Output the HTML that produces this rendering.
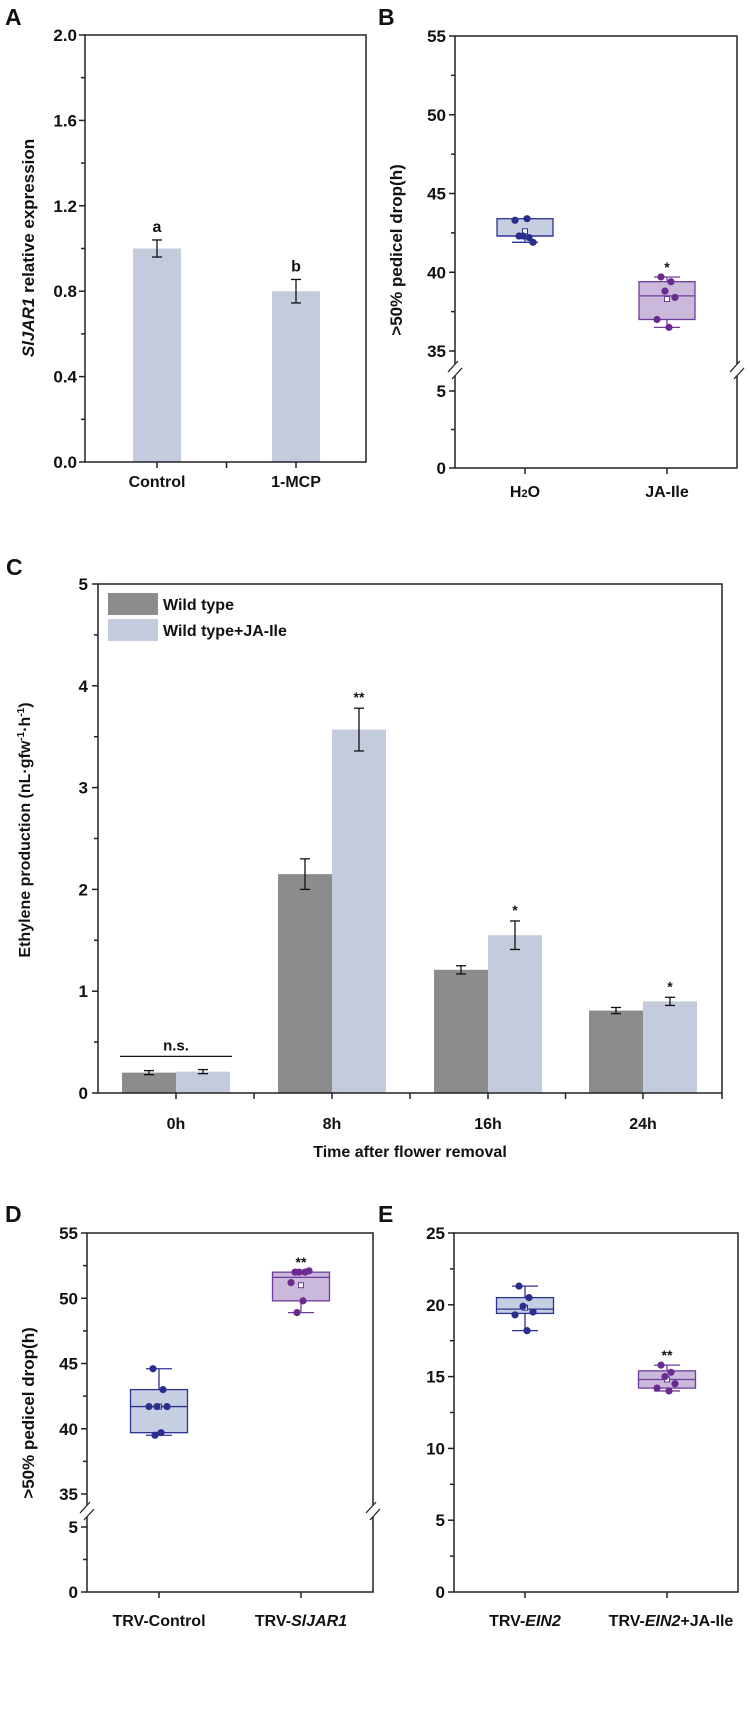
<!DOCTYPE html>
<html><head><meta charset="utf-8">
<style>
html,body{margin:0;padding:0;background:#fff;}
svg{display:block;font-family:"Liberation Sans",Arial,sans-serif;font-weight:bold;}
</style></head>
<body>
<svg id="fig" width="750" height="1734" viewBox="0 0 750 1734" xmlns="http://www.w3.org/2000/svg"></svg>
<script>
// ---- Panel A data ----
const aCats = ["Control", "1-MCP"];
const aVals = [1.0, 0.80];
const aErr = [0.04, 0.055];
const aLetters = ["a", "b"];
const aTicks = [0, 0.4, 0.8, 1.2, 1.6, 2.0];
// ---- Panel B data ----
const bCats = ["H2O", "JA-Ile"];
const bQ1 = [42.3, 37.0];
const bMed = [42.3, 38.5];
const bQ3 = [43.4, 39.4];
const bLo = [41.9, 36.5];
const bHi = [43.4, 39.7];
const bMean = [42.6, 38.3];
const bPts = [[42.3, 42.2, 42.3, 41.9, 43.3, 43.4], [39.7, 39.4, 38.8, 38.4, 37.0, 36.5]];
const bSig = ["", "*"];
// ---- Panel C data ----
const cCats = ["0h", "8h", "16h", "24h"];
const cWT = [0.20, 2.15, 1.21, 0.81];
const cWTerr = [0.02, 0.15, 0.04, 0.03];
const cJA = [0.21, 3.57, 1.55, 0.90];
const cJAerr = [0.02, 0.21, 0.14, 0.04];
const cSig = ["", "**", "*", "*"];
const cTicks = [0, 1, 2, 3, 4, 5];
// ---- Panel D data ----
const dCats = ["TRV-Control", "TRV-SlJAR1"];
const dQ1 = [39.7, 49.8];
const dMed = [41.7, 51.6];
const dQ3 = [43.0, 52.0];
const dLo = [39.5, 48.9];
const dHi = [44.6, 52.0];
const dMean = [41.7, 51.0];
const dPts = [[44.6, 43.0, 41.7, 41.7, 41.7, 39.7, 39.5], [52.0, 52.0, 52.0, 52.1, 51.2, 49.8, 48.9]];
const dSig = ["", "**"];
// ---- Panel E data ----
const eCats = ["TRV-EIN2", "TRV-EIN2+JA-Ile"];
const eQ1 = [19.4, 14.2];
const eMed = [19.7, 14.8];
const eQ3 = [20.5, 15.4];
const eLo = [18.2, 14.0];
const eHi = [21.3, 15.8];
const eMean = [19.8, 14.8];
const ePts = [[21.3, 20.5, 19.9, 19.5, 19.3, 18.2], [15.8, 15.3, 15.0, 14.5, 14.2, 14.0]];
const eSig = ["", "**"];
const eTicks = [0, 5, 10, 15, 20, 25];

const NS = "http://www.w3.org/2000/svg";
const svg = document.getElementById("fig");
function mk(tag, attrs, parent) {
  const e = document.createElementNS(NS, tag);
  for (const k in attrs) e.setAttribute(k, attrs[k]);
  (parent || svg).appendChild(e);
  return e;
}
function txt(x, y, s, size, anchor, parent) {
  const t = mk("text", {x: x, y: y, "font-size": size, "text-anchor": anchor || "middle", fill: "#111"}, parent);
  t.textContent = s;
  return t;
}
function group(name) {
  const g = mk("g", {});
  
  
  return g;
}
function frame(g, x0, x1, y0, y1) {
  mk("rect", {x: x0, y: y0, width: x1 - x0, height: y1 - y0, fill: "none", stroke: "#222", "stroke-width": 1.5}, g);
}
function ytick(g, x0, y, minor) {
  mk("line", {x1: x0 - (minor ? 4 : 6), x2: x0, y1: y, y2: y, stroke: "#222", "stroke-width": 1.5}, g);
}
function xtick(g, x, y) {
  mk("line", {x1: x, x2: x, y1: y, y2: y + 6, stroke: "#222", "stroke-width": 1.5}, g);
}
function errbar(g, x, yt, yb, w) {
  mk("line", {x1: x, x2: x, y1: yt, y2: yb, stroke: "#111", "stroke-width": 1.3}, g);
  mk("line", {x1: x - w, x2: x + w, y1: yt, y2: yt, stroke: "#111", "stroke-width": 1.3}, g);
  mk("line", {x1: x - w, x2: x + w, y1: yb, y2: yb, stroke: "#111", "stroke-width": 1.3}, g);
}
function vtitle(g, x, y, s, size) {
  const t = mk("text", {x: 0, y: 0, "font-size": size, "text-anchor": "middle", fill: "#111", transform: `translate(${x},${y}) rotate(-90)`}, g);
  t.innerHTML = s;
  
  
  return t;
}
function letter(x, y, s) {
  const t = txt(x, y, s, 23, "start");
  
  
}
const blueS = "#2d3393", blueF = "#c6cee2", purS = "#6d3c9c", purF = "#cbb9db";
const blueP = "#2a2f8e", purP = "#6a2b90";
function boxes(g, xs, yf, Q1, Med, Q3, Lo, Hi, Mean, Pts, Sig, bw) {
  for (let i = 0; i < xs.length; i++) {
    const s = i === 0 ? blueS : purS, f = i === 0 ? blueF : purF, p = i === 0 ? blueP : purP;
    const cx = xs[i];
    const bg = mk("g", {}, g);
    
    
    mk("line", {x1: cx, x2: cx, y1: yf(Hi[i]), y2: yf(Q3[i]), stroke: s, "stroke-width": 1.3}, bg);
    mk("line", {x1: cx, x2: cx, y1: yf(Q1[i]), y2: yf(Lo[i]), stroke: s, "stroke-width": 1.3}, bg);
    mk("line", {x1: cx - 13, x2: cx + 13, y1: yf(Hi[i]), y2: yf(Hi[i]), stroke: s, "stroke-width": 1.3}, bg);
    mk("line", {x1: cx - 13, x2: cx + 13, y1: yf(Lo[i]), y2: yf(Lo[i]), stroke: s, "stroke-width": 1.3}, bg);
    mk("rect", {x: cx - bw / 2, y: yf(Q3[i]), width: bw, height: yf(Q1[i]) - yf(Q3[i]), fill: f, stroke: s, "stroke-width": 1.3}, bg);
    mk("line", {x1: cx - bw / 2, x2: cx + bw / 2, y1: yf(Med[i]), y2: yf(Med[i]), stroke: s, "stroke-width": 1.3}, bg);
    mk("rect", {x: cx - 2.5, y: yf(Mean[i]) - 2.5, width: 5, height: 5, fill: "#fff", stroke: s, "stroke-width": 1}, bg);
    Pts[i].forEach((v, j) => {
      const off = [-6, 4, -2, 8, -10, 2, -4][j % 7];
      const c = mk("circle", {cx: cx + off, cy: yf(v), r: 3.6, fill: p}, bg);
      
      
    });
    if (Sig[i]) txt(cx, yf(Hi[i]) - 5, Sig[i], 14, "middle", bg);
  }
}
function breakScale(topV, yTop, y35, y5, y0) {
  return v => v >= 35 ? y35 - (v - 35) * (y35 - yTop) / (topV - 35) : y0 - v * (y0 - y5) / 5;
}
function breakMarks(g, xl, xr, y) {
  [xl, xr].forEach(x => {
    mk("rect", {x: x - 6, y: y - 6, width: 12, height: 12, fill: "#fff"}, g);
    mk("line", {x1: x - 7, x2: x + 3, y1: y + 2, y2: y - 9, stroke: "#222", "stroke-width": 1.3}, g);
    mk("line", {x1: x - 3, x2: x + 7, y1: y + 9, y2: y - 2, stroke: "#222", "stroke-width": 1.3}, g);
  });
}

// ===== Panel A =====
(function () {
  const g = group("panel-a");
  const X0 = 85, X1 = 366, Y0 = 35, Y1 = 462;
  const y = v => Y1 - v / 2.0 * (Y1 - Y0);
  const xs = [157, 296];
  letter(5, 25, "A");
  aVals.forEach((v, i) => {
    const r = mk("rect", {x: xs[i] - 24, y: y(v), width: 48, height: Y1 - y(v), fill: "#c3cbdd"}, g);
    
    
    errbar(g, xs[i], y(v + aErr[i]), y(v - aErr[i]), 5);
    txt(xs[i], y(v + aErr[i]) - 8, aLetters[i], 16, "middle", g);
  });
  frame(g, X0, X1, Y0, Y1);
  for (let v = 0; v <= 2.001; v += 0.2) ytick(g, X0, y(v), Math.round(v * 10) % 4 !== 0);
  aTicks.forEach(v => txt(X0 - 8, y(v) + 6, v.toFixed(1), 17, "end", g));
  [xs[0], (xs[0] + xs[1]) / 2, xs[1]].forEach(x => xtick(g, x, Y1));
  aCats.forEach((c, i) => txt(xs[i], 487, c, 16, "middle", g));
  vtitle(g, 34, 248, '<tspan font-style="italic">SlJAR1</tspan> relative expression', 17);
})();

// ===== Panel B =====
(function () {
  const g = group("panel-b");
  const X0 = 455, X1 = 737, Y0 = 36, Y1 = 468;
  const y = breakScale(55, Y0, 351, 391, Y1);
  const xs = [525, 667];
  letter(378, 25, "B");
  frame(g, X0, X1, Y0, Y1);
  [55, 52.5, 50, 47.5, 45, 42.5, 40, 37.5, 35, 5, 2.5, 0].forEach(v => ytick(g, X0, y(v), v % 5 !== 0));
  [55, 50, 45, 40, 35, 5, 0].forEach(v => txt(X0 - 9, y(v) + 6, String(v), 17, "end", g));
  breakMarks(g, X0, X1, 370);
  boxes(g, xs, y, bQ1, bMed, bQ3, bLo, bHi, bMean, bPts, bSig, 56);
  xs.forEach(x => xtick(g, x, Y1));
  const t1 = txt(xs[0], 497, "", 16, "middle", g);
  t1.innerHTML = 'H<tspan font-size="11">2</tspan>O';
  txt(xs[1], 497, bCats[1], 16, "middle", g);
  vtitle(g, 402, 250, '&gt;50% pedicel drop(h)', 17);
})();

// ===== Panel C =====
(function () {
  const g = group("panel-c");
  const X0 = 98, X1 = 722, Y0 = 584, Y1 = 1093;
  const y = v => Y1 - v / 5 * (Y1 - Y0);
  const xs = [176, 332, 488, 643];
  const bw = 54;
  letter(6, 575, "C");
  cCats.forEach((c, i) => {
    const r1 = mk("rect", {x: xs[i] - bw, y: y(cWT[i]), width: bw, height: Y1 - y(cWT[i]), fill: "#8c8c8c"}, g);
    
    
    const r2 = mk("rect", {x: xs[i], y: y(cJA[i]), width: bw, height: Y1 - y(cJA[i]), fill: "#c3cbdd"}, g);
    
    
    errbar(g, xs[i] - bw / 2, y(cWT[i] + cWTerr[i]), y(cWT[i] - cWTerr[i]), 5);
    errbar(g, xs[i] + bw / 2, y(cJA[i] + cJAerr[i]), y(cJA[i] - cJAerr[i]), 5);
    if (cSig[i]) txt(xs[i] + bw / 2, y(cJA[i] + cJAerr[i]) - 6, cSig[i], 14, "middle", g);
  });
  mk("line", {x1: xs[0] - bw - 2, x2: xs[0] + bw + 2, y1: y(0.36), y2: y(0.36), stroke: "#111", "stroke-width": 1.3}, g);
  txt(xs[0], y(0.36) - 6, "n.s.", 15, "middle", g);
  frame(g, X0, X1, Y0, Y1);
  for (let v = 0; v <= 5.001; v += 0.5) ytick(g, X0, y(v), Math.round(v * 2) % 2 !== 0);
  cTicks.forEach(v => txt(X0 - 10, y(v) + 6, String(v), 17, "end", g));
  xs.forEach(x => xtick(g, x, Y1));
  for (let i = 0; i < xs.length - 1; i++) xtick(g, (xs[i] + xs[i + 1]) / 2, Y1);
  xtick(g, X1, Y1);
  cCats.forEach((c, i) => txt(xs[i], 1129, c, 16, "middle", g));
  const xt = txt(410, 1157, "Time after flower removal", 16, "middle", g);
  
  
  const lg = mk("g", {}, g);
  
  
  mk("rect", {x: 108, y: 593, width: 50, height: 22, fill: "#8c8c8c"}, lg);
  mk("rect", {x: 108, y: 619, width: 50, height: 22, fill: "#c3cbdd"}, lg);
  txt(163, 610, "Wild type", 16, "start", lg);
  txt(163, 636, "Wild type+JA-Ile", 16, "start", lg);
  vtitle(g, 30, 830, 'Ethylene production (nL·gfw<tspan dy="-6" font-size="10">-1</tspan><tspan dy="6">·h</tspan><tspan dy="-6" font-size="10">-1</tspan><tspan dy="6">)</tspan>', 16);
})();

// ===== Panel D =====
(function () {
  const g = group("panel-d");
  const X0 = 87, X1 = 373, Y0 = 1233, Y1 = 1592;
  const y = breakScale(55, Y0, 1494, 1527, Y1);
  const xs = [159, 301];
  letter(5, 1222, "D");
  frame(g, X0, X1, Y0, Y1);
  [55, 52.5, 50, 47.5, 45, 42.5, 40, 37.5, 35, 5, 2.5, 0].forEach(v => ytick(g, X0, y(v), v % 5 !== 0));
  [55, 50, 45, 40, 35, 5, 0].forEach(v => txt(X0 - 9, y(v) + 6, String(v), 17, "end", g));
  breakMarks(g, X0, X1, 1511);
  boxes(g, xs, y, dQ1, dMed, dQ3, dLo, dHi, dMean, dPts, dSig, 57);
  xs.forEach(x => xtick(g, x, Y1));
  txt(xs[0], 1626, dCats[0], 16, "middle", g);
  const t = txt(xs[1], 1626, "", 16, "middle", g);
  t.innerHTML = 'TRV-<tspan font-style="italic">SlJAR1</tspan>';
  vtitle(g, 34, 1413, '&gt;50% pedicel drop(h)', 17);
})();

// ===== Panel E =====
(function () {
  const g = group("panel-e");
  const X0 = 454, X1 = 738, Y0 = 1233, Y1 = 1592;
  const y = v => Y1 - v / 25 * (Y1 - Y0);
  const xs = [525, 667];
  letter(378, 1222, "E");
  frame(g, X0, X1, Y0, Y1);
  for (let v = 0; v <= 25; v += 2.5) ytick(g, X0, y(v), v % 5 !== 0);
  eTicks.forEach(v => txt(X0 - 9, y(v) + 6, String(v), 17, "end", g));
  boxes(g, xs, y, eQ1, eMed, eQ3, eLo, eHi, eMean, ePts, eSig, 57);
  xs.forEach(x => xtick(g, x, Y1));
  const t1 = txt(xs[0], 1626, "", 16, "middle", g);
  t1.innerHTML = 'TRV-<tspan font-style="italic">EIN2</tspan>';
  const t2 = txt(xs[1] + 4, 1626, "", 16, "middle", g);
  t2.innerHTML = 'TRV-<tspan font-style="italic">EIN2</tspan>+JA-Ile';
})();
</script>
</body></html>
